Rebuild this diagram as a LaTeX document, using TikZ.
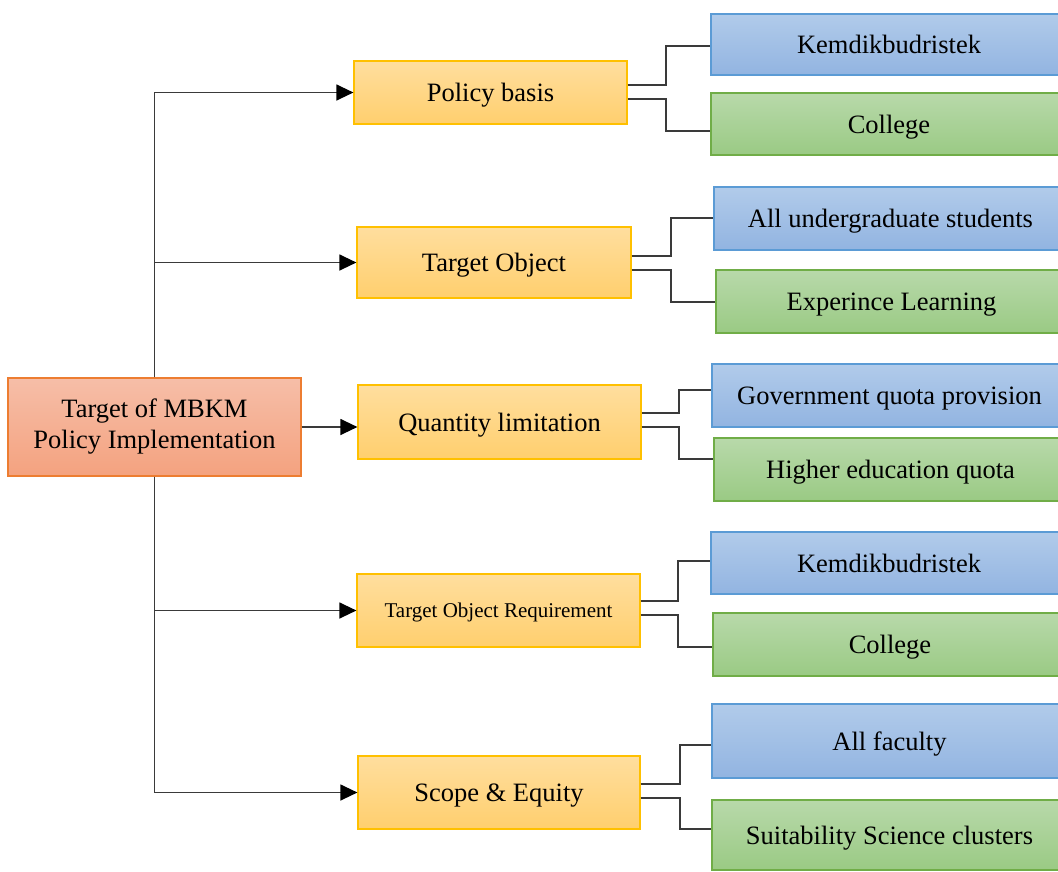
\documentclass[tikz,border=0pt]{standalone}
\usepackage{fontspec}
\setmainfont{Liberation Serif}
\usetikzlibrary{arrows.meta}

\definecolor{rootTop}{HTML}{F6BEA8}
\definecolor{rootBot}{HTML}{F4A27F}
\definecolor{rootLine}{HTML}{ED7D31}
\definecolor{ylwTop}{HTML}{FFDE9E}
\definecolor{ylwBot}{HTML}{FFCF6E}
\definecolor{ylwLine}{HTML}{FFC000}
\definecolor{bluTop}{HTML}{B1CBEA}
\definecolor{bluBot}{HTML}{92B4E1}
\definecolor{bluLine}{HTML}{5B9BD5}
\definecolor{grnTop}{HTML}{B8D9AA}
\definecolor{grnBot}{HTML}{9ACA84}
\definecolor{grnLine}{HTML}{70AD47}
\definecolor{linkGray}{HTML}{3A3A3A}

\tikzset{
  x=1pt, y=1pt,
  box/.style={rectangle, line width=1.2pt, inner sep=0pt, align=center,
    font=\fontsize{26.5}{31}\selectfont},
  oneline/.style={text height=24pt, text depth=6pt},
  rootbox/.style={box, draw=rootLine, top color=rootTop, bottom color=rootBot},
  midbox/.style={box, oneline, draw=ylwLine, top color=ylwTop, bottom color=ylwBot},
  bluebox/.style={box, oneline, draw=bluLine, top color=bluTop, bottom color=bluBot},
  greenbox/.style={box, oneline, draw=grnLine, top color=grnTop, bottom color=grnBot},
  link/.style={draw=linkGray, line width=1.3pt},
  arr/.style={link, -{Triangle[length=17pt, width=16pt, color=black, fill=black]}},
}

\begin{document}
\begin{tikzpicture}
\clip (0,0) rectangle (1058,-871);

% root
\node[rootbox, minimum width=293, minimum height=98] (root) at (154.5,-427)
  {Target of MBKM\\Policy Implementation};

% second level
\node[midbox, minimum width=273, minimum height=63] (pb)  at (490.5,-92.5) {Policy basis};
\node[midbox, minimum width=274, minimum height=71] (to)  at (494,-262.5)  {Target Object};
\node[midbox, minimum width=283, minimum height=74] (ql)  at (499.5,-422)  {Quantity limitation};
\node[midbox, minimum width=283, minimum height=73,
      font=\fontsize{21}{25}\selectfont, text height=19pt, text depth=5pt]
      (tor) at (498.5,-610.5) {Target Object Requirement};
\node[midbox, minimum width=282, minimum height=73] (se)  at (499,-792.5)  {Scope \& Equity};

% third level
\node[bluebox,  minimum width=356, minimum height=61] (k1) at (889,-44.5)   {Kemdikbudristek};
\node[greenbox, minimum width=356, minimum height=62] (c1) at (889,-124)    {College};
\node[bluebox,  minimum width=353, minimum height=63] (u2) at (890.5,-218.5) {All undergraduate students};
\node[greenbox, minimum width=351, minimum height=63] (e2) at (891.5,-301.5) {Experince Learning};
\node[bluebox,  minimum width=355, minimum height=63] (g3) at (889.5,-395.5) {Government quota provision};
\node[greenbox, minimum width=353, minimum height=63] (h3) at (890.5,-469.5) {Higher education quota};
\node[bluebox,  minimum width=356, minimum height=62] (k4) at (889,-563)    {Kemdikbudristek};
\node[greenbox, minimum width=354, minimum height=63] (c4) at (890,-644.5)  {College};
\node[bluebox,  minimum width=355, minimum height=74] (f5) at (889.5,-741)  {All faculty};
\node[greenbox, minimum width=355, minimum height=70] (s5) at (889.5,-835)  {Suitability Science clusters};

% root to second level
\draw[arr] (root.north) |- (pb.west);
\draw[arr] (root.north) |- (to.west);
\draw[arr] (root.east) -- (root.east -| ql.west);
\draw[arr] (root.south) |- (tor.west);
\draw[arr] (root.south) |- (se.west);

% second level to third level
\draw[link] (pb.east |- 0,-85)  -- (666,-85)  |- (k1.west |- 0,-46);
\draw[link] (pb.east |- 0,-99)  -- (666,-99)  |- (c1.west |- 0,-131);
\draw[link] (to.east |- 0,-256) -- (671,-256) |- (u2.west |- 0,-218);
\draw[link] (to.east |- 0,-270) -- (671,-270) |- (e2.west |- 0,-302);
\draw[link] (ql.east |- 0,-413) -- (679,-413) |- (g3.west |- 0,-390);
\draw[link] (ql.east |- 0,-427) -- (679,-427) |- (h3.west |- 0,-459);
\draw[link] (tor.east |- 0,-601) -- (678,-601) |- (k4.west |- 0,-561);
\draw[link] (tor.east |- 0,-615) -- (678,-615) |- (c4.west |- 0,-647);
\draw[link] (se.east |- 0,-784) -- (680,-784) |- (f5.west |- 0,-745);
\draw[link] (se.east |- 0,-798) -- (680,-798) |- (s5.west |- 0,-829);
\end{tikzpicture}
\end{document}
